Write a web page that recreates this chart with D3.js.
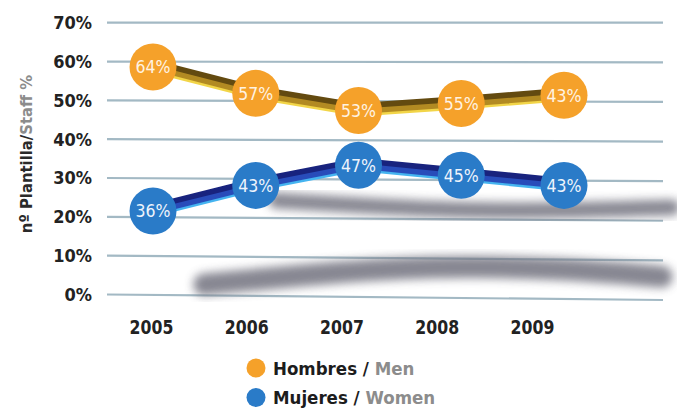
<!DOCTYPE html>
<html>
<head>
<meta charset="utf-8">
<script src="https://cdn.jsdelivr.net/npm/d3@7"></script>
<style>
  body { margin: 0; background: #fff; }
  svg { display: block; }
</style>
</head>
<body>
<svg id="chart" width="677" height="409"></svg>
<script>
// ---- data ----
const years = [2005, 2006, 2007, 2008, 2009];
const menValues = [58.6, 51.8, 47.4, 49.2, 51.3];
const womenValues = [21.5, 28.1, 33.3, 30.7, 28.1];
const menLabels = ["64%", "57%", "53%", "55%", "43%"];
const womenLabels = ["36%", "43%", "47%", "45%", "43%"];
const yTicks = [0, 10, 20, 30, 40, 50, 60, 70];
const yTickLabels = ["0%", "10%", "20%", "30%", "40%", "50%", "60%", "70%"];
const legendNames = ["Hombres / ", "Mujeres / "];
const legendNamesEn = ["Men", "Women"];
const axisTitle = ["nº Plantilla/", "Staff %"];
// soft floor shadows under the lines, as (year, percent) pairs
const upperShadow = [[2006.2, 24.2], [2007, 22.9], [2008, 21.6], [2009, 21.6], [2010.05, 22.4]];
const lowerShadow = [[2005.5, 2.6], [2006.4, 4.9], [2007.7, 7.5], [2009, 6.7], [2009.95, 4.6]];

// ---- scales ----
const svg = d3.select("#chart");
const gridLeft = 107, gridRight = 663;
const yLeft = d3.scaleLinear().domain([0, 70]).range([294.5, 22.7]);
const yRight = d3.scaleLinear().domain([0, 70]).range([300, 22.7]);
const xPlot = d3.scaleLinear().domain([2005, 2009]).range([153, 564]);
const xLabel = d3.scaleLinear().domain([2005, 2009]).range([151, 532]);

const font = "'DejaVu Sans Condensed', 'DejaVu Sans', sans-serif";
const colors = {
  men: { fill: "#f5a12a", dark: "#634a10", mid: "#b28a22", hi: "#f2d548", text: "#fff3e2" },
  women: { fill: "#2a7bc8", dark: "#18237e", mid: "#284cba", hi: "#45b4f0", text: "#eef4fc" }
};

const defs = svg.append("defs");
defs.append("filter").attr("id", "soft")
  .attr("x", "-20%").attr("y", "-100%").attr("width", "140%").attr("height", "300%")
  .append("feGaussianBlur").attr("stdDeviation", 5);

// ---- grid ----
svg.append("g").selectAll("line").data(yTicks).join("line")
  .attr("x1", gridLeft).attr("x2", gridRight)
  .attr("y1", d => yLeft(d)).attr("y2", d => yRight(d))
  .attr("stroke", "#a3b9c4").attr("stroke-width", 2.2);

svg.append("g").selectAll("text").data(yTicks).join("text")
  .attr("x", 92).attr("y", d => yLeft(d)).attr("dy", "0.36em")
  .attr("text-anchor", "end")
  .attr("font-family", font)
  .attr("font-weight", "bold").attr("font-size", 18).attr("fill", "#222")
  .text((d, i) => yTickLabels[i]);

// axis title
const title = svg.append("text")
  .attr("transform", "translate(31.5,154) rotate(-90)")
  .attr("text-anchor", "middle")
  .attr("font-family", font)
  .attr("font-weight", "bold").attr("font-size", 16.5);
title.append("tspan").attr("fill", "#2a2a2a").text(axisTitle[0]);
title.append("tspan").attr("fill", "#8c8c8c").text(axisTitle[1]);

// ---- x axis ----
const xAxis = svg.append("g").attr("transform", "translate(0,328)")
  .call(d3.axisBottom(xLabel).tickValues(years).tickFormat(d3.format("d")).tickSize(0).tickPadding(0));
xAxis.select(".domain").remove();
xAxis.selectAll(".tick text")
  .attr("y", -6).attr("dy", "0.36em")
  .attr("transform", "translate(0,6) scale(1,1.15)")
  .attr("font-family", font)
  .attr("font-weight", "bold").attr("font-size", 17.5).attr("fill", "#222");

// ---- shadows ----
const shadowLine = d3.line().curve(d3.curveBasis)
  .x(d => xPlot(d[0])).y(d => yLeft(d[1]));
svg.append("path").attr("d", shadowLine(upperShadow))
  .attr("fill", "none").attr("stroke", "#72727f").attr("stroke-width", 16)
  .attr("stroke-linecap", "round").attr("opacity", 0.85).attr("filter", "url(#soft)");
svg.append("path").attr("d", shadowLine(lowerShadow))
  .attr("fill", "none").attr("stroke", "#72727f").attr("stroke-width", 22)
  .attr("stroke-linecap", "round").attr("opacity", 0.85).attr("filter", "url(#soft)");

// ---- series ----
const seriesLine = d3.line().x((d, i) => xPlot(years[i])).y(d => yLeft(d));

function drawSeries(values, c) {
  const g = svg.append("g");
  const d = seriesLine(values);
  // layered ribbon: dark top, body, bright lower edge
  g.append("path").attr("d", d).attr("transform", "translate(0,-1.5)")
    .attr("fill", "none").attr("stroke", c.dark).attr("stroke-width", 12);
  g.append("path").attr("d", d).attr("transform", "translate(0,1.2)")
    .attr("fill", "none").attr("stroke", c.mid).attr("stroke-width", 6);
  g.append("path").attr("d", d).attr("transform", "translate(0,4.8)")
    .attr("fill", "none").attr("stroke", c.hi).attr("stroke-width", 2.4);
}

function drawMarkers(values, labels, c) {
  const g = svg.append("g");
  g.selectAll("circle").data(values).join("circle")
    .attr("cx", (d, i) => xPlot(years[i])).attr("cy", d => yLeft(d))
    .attr("r", 23.5).attr("fill", c.fill);
  g.selectAll("text").data(values).join("text")
    .attr("x", (d, i) => xPlot(years[i])).attr("y", d => yLeft(d)).attr("dy", "0.36em")
    .attr("text-anchor", "middle")
    .attr("font-family", font)
    .attr("font-size", 17.5).attr("fill", c.text)
    .text((d, i) => labels[i]);
}

drawSeries(menValues, colors.men);
drawSeries(womenValues, colors.women);
drawMarkers(menValues, menLabels, colors.men);
drawMarkers(womenValues, womenLabels, colors.women);

// ---- legend ----
const legendColors = [colors.men.fill, colors.women.fill];
const legend = svg.append("g").selectAll("g").data(legendNames).join("g")
  .attr("transform", (d, i) => `translate(256,${368 + i * 29.5})`);
legend.append("circle").attr("r", 9.5).attr("fill", (d, i) => legendColors[i]);
const lt = legend.append("text").attr("x", 17).attr("y", 6.8)
  .attr("font-family", font)
  .attr("font-weight", "bold").attr("font-size", 18.5);
lt.append("tspan").attr("fill", "#1c1c1c").text(d => d);
lt.append("tspan").attr("fill", "#8c8c8c").text((d, i) => legendNamesEn[i]);
</script>
</body>
</html>
